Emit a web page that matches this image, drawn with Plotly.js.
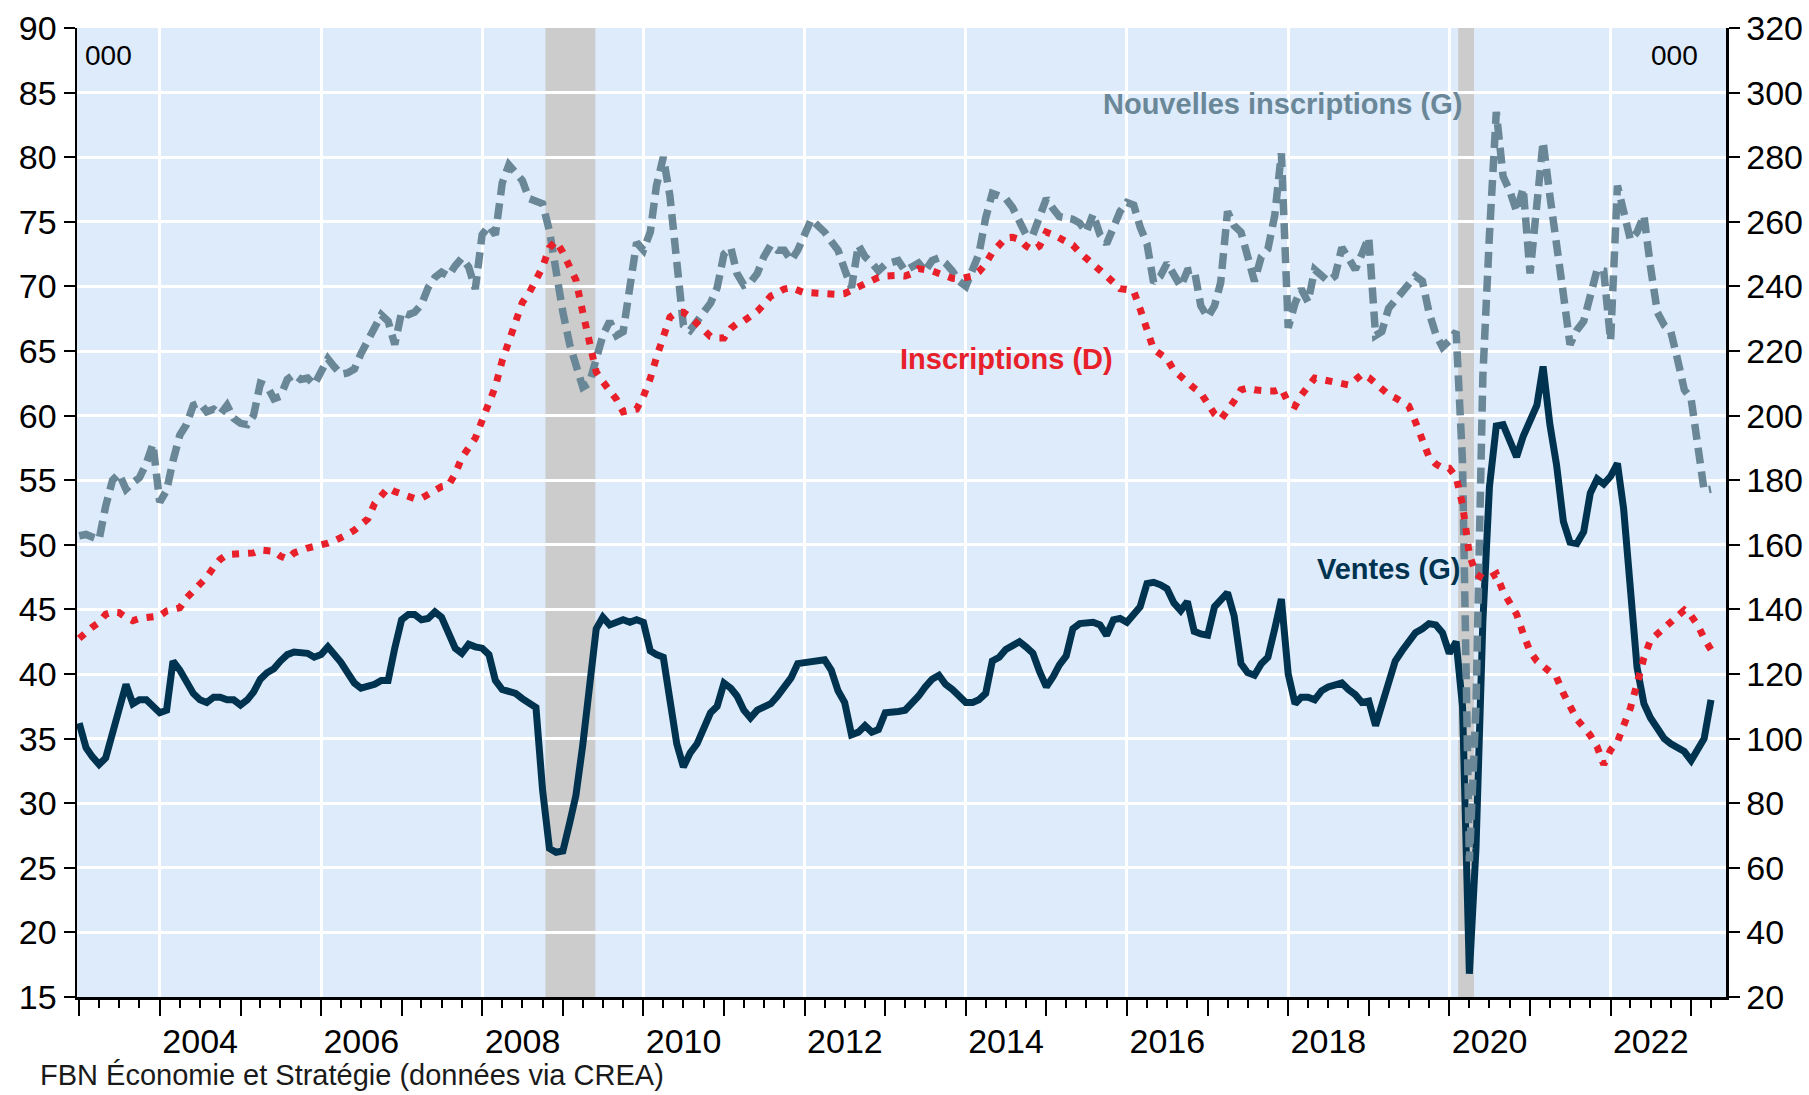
<!DOCTYPE html>
<html>
<head>
<meta charset="utf-8">
<script src="https://cdn.plot.ly/plotly-3.0.1.min.js"></script>
<style>
  html, body { margin: 0; padding: 0; background: #ffffff; }
  #chart { width: 1809px; height: 1095px; }
</style>
</head>
<body>
<div id="chart"></div>
<script>
// ---- Data (monthly, Jan 2003 - Apr 2023), thousands ----
const startYear = 2003;

// Ventes (G) - left axis
const ventes = [
  36.2, 34.3, 33.6, 33.0, 33.5, 35.5, 37.5, 39.2, 37.7, 38.0, 38.0, 37.5,
  37.0, 37.2, 41.0, 40.3, 39.5, 38.5, 38.0, 37.8, 38.2, 38.2, 38.0, 38.0,
  37.6, 38.0, 38.6, 39.6, 40.1, 40.4, 41.0, 41.5, 41.7, 41.6, 41.6, 41.3,
  41.5, 42.1, 41.6, 40.9, 40.1, 39.3, 38.9, 39.0, 39.2, 39.5, 39.5, 42.0,
  44.2, 44.6, 44.6, 44.2, 44.3, 44.8, 44.4, 43.2, 42.0, 41.6, 42.3, 42.1,
  42.0, 41.5, 39.5, 38.8, 38.7, 38.5, 38.1, 37.7, 37.4, 31.0, 26.5, 26.2,
  26.3, 28.5, 30.6, 34.5, 39.5, 43.5, 44.4, 43.8, 44.0, 44.2, 44.0, 44.2,
  44.0, 41.8, 41.5, 41.3, 38.0, 34.6, 32.8, 33.9, 34.6, 35.8, 37.0, 37.5,
  39.3, 38.9, 38.3, 37.2, 36.6, 37.2, 37.4, 37.7, 38.3, 39.0, 39.7, 40.8,
  40.9, 41.0, 41.0, 41.1, 40.3, 38.7, 37.8, 35.3, 35.5, 36.0, 35.5, 35.7,
  37.0, 37.0, 37.1, 37.2, 37.7, 38.3, 39.0, 39.6, 39.9, 39.2, 38.8, 38.3,
  37.8, 37.8, 38.0, 38.5, 41.0, 41.3, 41.9, 42.2, 42.5, 42.1, 41.6, 40.2,
  39.0, 39.8, 40.7, 41.4, 43.5, 43.9, 43.9, 44.0, 43.8, 43.0, 44.2, 44.3,
  44.0, 44.6, 45.2, 47.0, 47.1, 46.9, 46.6, 45.5, 44.9, 45.6, 43.3, 43.1,
  43.0, 45.2, 45.8, 46.3, 44.5, 40.8, 40.1, 39.9, 40.8, 41.3, 43.5, 45.8,
  40.0, 37.7, 38.2, 38.2, 38.0, 38.7, 39.0, 39.2, 39.3, 38.8, 38.4, 37.8,
  37.9, 36.0, 37.5, 39.6, 41.0, 41.8, 42.5, 43.2, 43.5, 43.9, 43.8, 43.2,
  41.6, 42.5, 37.5, 16.8, 26.5, 44.0, 54.5, 59.2, 59.3, 58.0, 56.8, 58.4,
  59.6, 60.8, 63.8, 59.3, 56.2, 51.8, 50.2, 50.1, 51.0, 54.0, 55.1, 54.7,
  55.3, 56.3, 52.8, 46.0, 40.5, 37.7, 36.6, 35.8, 35.0, 34.6, 34.3, 34.0,
  33.3, 34.2, 35.0, 38.0
];

// Nouvelles inscriptions (G) - left axis
const nouvelles = [
  50.7, 50.8, 50.6, 50.4, 53.0, 55.0, 55.5, 54.3, 54.8, 55.2, 56.3, 57.8,
  53.3, 54.2, 56.5, 58.5, 59.3, 60.8, 61.0, 60.3, 60.5, 60.1, 60.8, 59.8,
  59.4, 59.3, 60.0, 62.5, 62.3, 61.3, 61.5, 62.8, 63.2, 62.8, 62.9, 62.4,
  63.4, 64.4, 63.8, 63.2, 63.3, 63.6, 64.8, 65.8, 67.0, 67.8, 67.3, 65.5,
  68.0, 67.8, 68.0, 68.6, 69.9, 70.7, 71.1, 70.8, 71.6, 72.2, 71.5, 69.8,
  74.0, 74.7, 74.0, 78.0, 79.4, 78.7, 78.2, 76.8, 76.6, 76.4, 74.3, 71.0,
  68.0, 65.5, 63.7, 62.2, 62.5, 64.2, 66.2, 67.3, 66.2, 66.5, 70.5, 73.4,
  72.8, 74.2, 77.8, 80.0, 77.0, 71.8, 67.0, 66.6, 67.3, 68.0, 68.7, 69.9,
  72.5, 73.0, 71.0, 70.1, 70.3, 71.0, 72.3, 73.2, 72.8, 72.8, 72.0, 72.8,
  74.0, 75.2, 74.7, 74.2, 73.5, 72.8, 71.3, 69.9, 73.2, 72.3, 71.8, 71.2,
  71.7, 71.8, 72.0, 71.2, 71.5, 71.8, 71.2, 72.0, 72.2, 71.8, 71.2, 70.4,
  70.0, 71.2, 72.5, 75.3, 77.2, 77.0, 76.8, 76.1, 75.0, 74.0, 74.0, 75.4,
  76.8, 76.0, 75.4, 75.3, 75.2, 74.9, 74.2, 75.6, 74.0, 73.3, 74.5, 75.8,
  76.5, 76.3, 74.6, 73.3, 70.3, 70.8, 71.8, 71.0, 70.0, 71.2, 71.3, 68.5,
  67.6, 68.5, 70.3, 75.8, 74.7, 74.2, 72.5, 70.4, 72.3, 72.9, 75.5, 80.3,
  66.8, 68.7, 69.8, 68.8, 71.3, 70.8, 70.4, 70.8, 73.0, 72.2, 71.3, 72.5,
  73.8, 66.2, 66.5, 68.3, 68.9, 69.5, 70.2, 70.8, 70.4, 68.0, 66.3, 65.3,
  65.8, 66.5, 56.4, 25.5, 37.5, 63.0, 74.0, 83.5, 78.5, 77.4, 75.8, 77.6,
  71.0, 76.5, 81.2, 77.0, 72.8, 69.4, 65.5, 66.6, 67.3, 69.5, 71.3, 71.2,
  65.8, 77.8, 75.6, 73.6, 74.2, 75.5, 71.5, 68.0, 67.0, 66.5, 64.3, 62.0,
  61.3, 58.0, 54.2, 54.3
];

// Inscriptions (D) - right axis
const inscriptions = [
  131, 133, 134.5, 136, 138.5, 139.2, 139, 137.5, 136.5, 137.2, 137.5, 137.6,
  138, 139.5, 140, 140.5, 143.5, 145.5, 147.5, 150, 153, 155.5, 157, 157,
  157, 157, 157.5, 158.4, 158.2, 158, 156.5, 155.6, 157.5, 158.5, 159, 159.5,
  159.8, 160.5, 161.2, 162, 163.2, 164.5, 166, 168, 172.8, 175.5, 177.6, 176.5,
  175.8, 175, 174.3, 174.4, 175.5, 177.2, 178, 178.4, 182, 187, 190, 193,
  198.5, 204, 209, 217, 223.5, 230, 235, 238, 242, 246, 252, 254,
  250.5, 246, 242, 232, 222, 213.5, 210.5, 207.8, 205, 201.2, 201.5, 202,
  206, 211.5, 218, 225, 230.5, 232, 232, 230.5, 228.5, 226.5, 224.5, 224,
  224, 227, 228.5, 229.3, 230.8, 232.3, 234.5, 237, 238, 239.2, 239.6, 239,
  238, 238, 237.8, 237.5, 237.5, 237.5, 237.8, 238.8, 240, 241.2, 242, 242.8,
  243.2, 243.5, 243.4, 243.2, 244, 245.5, 245.3, 244.8, 244, 243.2, 242.5, 242.3,
  243, 243.2, 244.5, 247, 250.5, 253, 255, 255.2, 254.5, 252.5, 251.2, 252.5,
  256.8, 256, 254.8, 253.8, 252.8, 250.5, 248.5, 247, 245, 243.2, 241.2, 239.3,
  239, 238.5, 233, 226.5, 220.5, 219, 217.6, 214, 212, 210, 208.5, 207,
  203.5, 200.5, 198.8, 201.5, 204.5, 208, 208.5, 208, 207.6, 207.6, 207.6, 208.4,
  204, 203, 206.3, 209, 211.6, 211.2, 210.8, 210.4, 209.8, 209.5, 211, 212.8,
  211.8, 210, 208.3, 206.5, 205.5, 204.3, 203, 198, 193, 187.2, 185, 183.8,
  183.7, 181, 172.4, 157, 151, 149.6, 149.8, 151, 145.5, 142, 138.5, 132.5,
  127, 124, 122.4, 120.5, 119, 114, 110, 106, 103.5, 101, 97.5, 92,
  96.5, 99, 104, 109.5, 117, 125, 130.5, 132.5, 134.5, 136, 138.5, 139.8,
  138, 135, 131, 127.5
];

// Recession periods (shaded)
const recessions = [
  ['2008-10-14', '2009-05-28'],
  ['2020-02-10', '2020-04-22']
];

// Year labels on the time axis
const labelYears = [2004, 2006, 2008, 2010, 2012, 2014, 2016, 2018, 2020, 2022];

// Series names
const nameVentes = 'Ventes (G)';
const nameNouvelles = 'Nouvelles inscriptions (G)';
const nameInscriptions = 'Inscriptions (D)';
const sourceText = 'FBN Économie et Stratégie (données via CREA)';

// ---- Build monthly dates ----
const months = ventes.map((_, i) => {
  const y = startYear + Math.floor(i / 12);
  const m = (i % 12) + 1;
  return y + '-' + String(m).padStart(2, '0') + '-01';
});

const FONT = 'Liberation Sans, Arial, Helvetica, sans-serif';
const cVentes = '#00334F';
const cNouv = '#6A8797';
const cInsc = '#E8202A';

// invisible helper traces so the overlay axes (grid / labels) get drawn
const helper = (xa) => ({
  x: months, y: ventes, xaxis: xa, yaxis: 'y', type: 'scatter', mode: 'lines',
  line: { width: 0, color: 'rgba(0,0,0,0)' }, opacity: 0, hoverinfo: 'skip', showlegend: false
});

const traces = [
  helper('x2'),
  helper('x3'),
  {
    x: months, y: ventes, name: nameVentes, type: 'scatter', mode: 'lines',
    xaxis: 'x', yaxis: 'y',
    line: { color: cVentes, width: 7 }
  },
  {
    x: months, y: nouvelles, name: nameNouvelles, type: 'scatter', mode: 'lines',
    xaxis: 'x', yaxis: 'y',
    line: { color: cNouv, width: 7.5, dash: '16px,8px' }
  },
  {
    x: months, y: inscriptions, name: nameInscriptions, type: 'scatter', mode: 'lines',
    xaxis: 'x', yaxis: 'y2',
    line: { color: cInsc, width: 7, dash: '7px,9px' }
  }
];

const xRange = ['2002-12-22', '2023-06-08'];

const shapes = recessions.map(r => ({
  type: 'rect', xref: 'x', yref: 'paper',
  x0: r[0], x1: r[1], y0: 0, y1: 1,
  fillcolor: '#CCCCCC', line: { width: 0 }, layer: 'below'
}));

const layout = {
  width: 1809, height: 1095,
  margin: { l: 77, r: 83, t: 28, b: 98 },
  paper_bgcolor: '#ffffff',
  plot_bgcolor: '#DDEBFB',
  showlegend: false,
  font: { family: FONT, color: '#000000', size: 30 },
  xaxis: {
    type: 'date', range: xRange,
    tickmode: 'linear', tick0: '2003-01-01', dtick: 'M12',
    ticks: 'outside', ticklen: 16, tickwidth: 2, tickcolor: '#000',
    showticklabels: false, showgrid: false, zeroline: false,
    showline: true, linecolor: '#000', linewidth: 2.5,
    minor: { tickmode: 'linear', tick0: '2003-01-01', dtick: 'M3', ticks: 'outside',
             ticklen: 8, tickwidth: 2, tickcolor: '#000', showgrid: false }
  },
  xaxis2: {
    type: 'date', range: xRange, overlaying: 'x', anchor: 'y', side: 'bottom',
    tickmode: 'array', tickvals: labelYears.map(y => y + '-01-01'),
    ticks: '', showticklabels: false, showline: false, zeroline: false,
    showgrid: true, gridcolor: '#ffffff', gridwidth: 3
  },
  xaxis3: {
    type: 'date', range: xRange, overlaying: 'x', anchor: 'y', side: 'bottom',
    tickmode: 'array', tickvals: labelYears.map(y => y + '-07-02'),
    ticktext: labelYears.map(String),
    ticks: 'outside', ticklen: 14, tickcolor: 'rgba(0,0,0,0)',
    showgrid: false, showline: false, zeroline: false,
    tickfont: { family: FONT, size: 34, color: '#000' }
  },
  yaxis: {
    range: [15, 90], tickmode: 'linear', tick0: 15, dtick: 5,
    ticks: 'outside', ticklen: 11, tickwidth: 2, tickcolor: '#000',
    showline: true, linecolor: '#000', linewidth: 2.5,
    showgrid: true, gridcolor: '#ffffff', gridwidth: 3, zeroline: false,
    tickfont: { family: FONT, size: 34, color: '#000' }
  },
  yaxis2: {
    range: [20, 320], tickmode: 'linear', tick0: 20, dtick: 20,
    overlaying: 'y', side: 'right', anchor: 'x',
    ticks: 'outside', ticklen: 11, tickwidth: 2, tickcolor: '#000',
    showline: true, linecolor: '#000', linewidth: 2.5,
    showgrid: false, zeroline: false,
    tickfont: { family: FONT, size: 34, color: '#000' }
  },
  shapes: shapes,
  annotations: [
    { text: '000', xref: 'paper', yref: 'paper', x: 0.0036, y: 0.972,
      xanchor: 'left', yanchor: 'middle', showarrow: false,
      font: { family: FONT, size: 28, color: '#000' } },
    { text: '000', xref: 'paper', yref: 'paper', x: 0.9842, y: 0.972,
      xanchor: 'right', yanchor: 'middle', showarrow: false,
      font: { family: FONT, size: 28, color: '#000' } },
    { text: '<b>' + nameNouvelles + '</b>', xref: 'paper', yref: 'paper', x: 0.7308, y: 0.9216,
      xanchor: 'center', yanchor: 'middle', showarrow: false,
      font: { family: FONT, size: 29, color: cNouv } },
    { text: '<b>' + nameInscriptions + '</b>', xref: 'paper', yref: 'paper', x: 0.5634, y: 0.6584,
      xanchor: 'center', yanchor: 'middle', showarrow: false,
      font: { family: FONT, size: 29, color: cInsc } },
    { text: '<b>' + nameVentes + '</b>', xref: 'paper', yref: 'paper', x: 0.7956, y: 0.4417,
      xanchor: 'center', yanchor: 'middle', showarrow: false,
      font: { family: FONT, size: 29, color: cVentes } },
    { text: sourceText, xref: 'paper', yref: 'paper', x: -0.0237, y: -0.0805,
      xanchor: 'left', yanchor: 'middle', showarrow: false,
      font: { family: FONT, size: 29, color: '#1a1a1a' } }
  ]
};

Plotly.newPlot('chart', traces, layout, { displayModeBar: false, staticPlot: true });
</script>
</body>
</html>
